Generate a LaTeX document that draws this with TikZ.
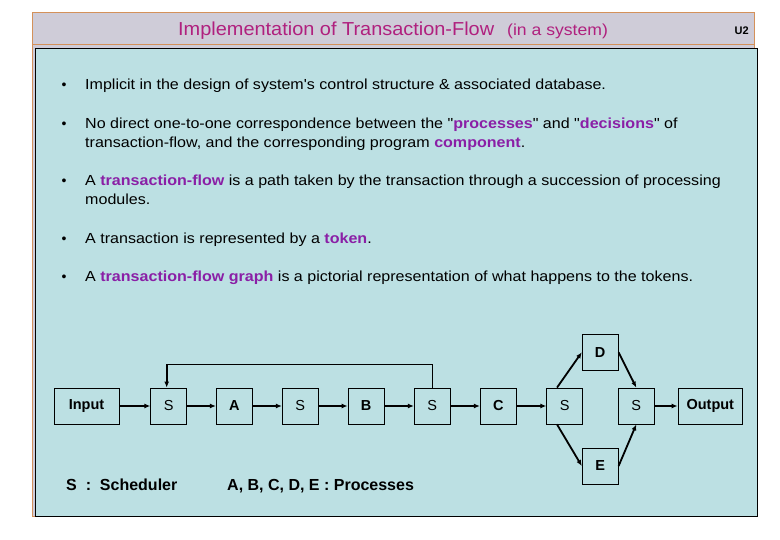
\documentclass[tikz,border=0pt]{standalone}
\usepackage{fontspec}
\setmainfont{Liberation Sans}
\newfontfamily\widesans[FakeStretch=1.1]{Liberation Sans}
\newfontfamily\titlesans[FakeStretch=1.06]{Liberation Sans}
\usetikzlibrary{arrows.meta}
\definecolor{titlebg}{HTML}{CFCCD8}
\definecolor{frameor}{HTML}{D4915A}
\definecolor{bodybg}{HTML}{BCE0E3}
\definecolor{titlecol}{HTML}{B0207E}
\definecolor{hl}{HTML}{8A1FA6}
\newcommand{\hw}[1]{\textbf{\color{hl}#1}}
\newcommand{\dq}{\char"0022\relax}
\tikzset{
  bul/.style={anchor=base west, inner sep=0pt, font=\widesans\fontsize{14.6}{17}\selectfont},
  blt/.style={anchor=base, inner sep=0pt, font=\fontsize{14}{17}\selectfont},
  pbox/.style={draw=black, line width=0.8pt, minimum width=36pt, minimum height=36pt, inner sep=0pt, font=\fontsize{14.5}{16}\selectfont\bfseries},
  sbox/.style={pbox, font=\fontsize{14.5}{16}\selectfont},
  flow/.style={line width=1.8pt, -{Latex[length=6pt,width=5pt]}},
  legend/.style={anchor=base west, inner sep=0pt, font=\fontsize{16}{18}\selectfont\bfseries}
}
\begin{document}
\begin{tikzpicture}[x=1pt,y=-1pt]
\useasboundingbox (0,0) rectangle (780,540);
% frame
\fill[white] (0,0) rectangle (780,540);
\draw[frameor, fill=titlebg, line width=0.8pt] (32,12) rectangle (754,516);
\draw[frameor, line width=0.8pt] (32,44) -- (754,44);
\draw[black, fill=bodybg, line width=0.9pt] (35,48) rectangle (757,516);
% title
\node[inner sep=0pt, anchor=base west, text=titlecol, font=\titlesans\fontsize{18.8}{20}\selectfont] (title) at (178,35.5) {Implementation of Transaction-Flow};
\node[inner sep=0pt, anchor=base west, text=titlecol, font=\widesans\fontsize{16}{18}\selectfont] (subt) at (507,35.5) {(in a system)};
\node[inner sep=0pt, anchor=base east, font=\fontsize{11}{13}\selectfont\bfseries] (u2) at (749,35) {U2};
% bullets
\node[blt] (b1) at (64,90) {•};
\node[bul] (t1) at (85,90) {Implicit in the design of system's control structure \& associated database.};
\node[blt] (b2) at (64,129) {•};
\node[bul] (t2a) at (85,129) {No direct one-to-one correspondence between the \dq\hw{processes}\dq\ and \dq\hw{decisions}\dq\ of};
\node[bul] (t2b) at (85,148) {transaction-flow, and the corresponding program \hw{component}.};
\node[blt] (b3) at (64,186) {•};
\node[bul] (t3a) at (85,186) {A \hw{transaction-flow} is a path taken by the transaction through a succession of processing};
\node[bul] (t3b) at (85,205) {modules.};
\node[blt] (b4) at (64,244) {•};
\node[bul] (t4) at (85,244) {A transaction is represented by a \hw{token}.};
\node[blt] (b5) at (64,282) {•};
\node[bul] (t5) at (85,282) {A \hw{transaction-flow graph} is a pictorial representation of what happens to the tokens.};
% diagram
\node[pbox, minimum width=65pt] (in) at (86.5,406) {Input};
\node[sbox] (s1) at (168.7,406) {S};
\node[pbox] (a) at (234.3,406) {A};
\node[sbox] (s2) at (300.3,406) {S};
\node[pbox] (b) at (366,406) {B};
\node[sbox] (s3) at (432.3,406) {S};
\node[pbox] (c) at (498.3,406) {C};
\node[sbox] (s4) at (564.7,406) {S};
\node[pbox] (d) at (600.2,352.3) {D};
\node[pbox] (e) at (600.2,466) {E};
\node[sbox] (s5) at (636.3,406) {S};
\node[pbox, minimum width=64.7pt] (out) at (710.3,406) {Output};
\draw[flow] (in) -- (s1);
\draw[flow] (s1) -- (a);
\draw[flow] (a) -- (s2);
\draw[flow] (s2) -- (b);
\draw[flow] (b) -- (s3);
\draw[flow] (s3) -- (c);
\draw[flow] (c) -- (s4);
\draw[flow] (s5) -- (out);
\draw[flow] ([xshift=-7.7pt]s4.north) -- (d.west);
\draw[flow] ([xshift=-7.7pt]s4.south) -- (e.west);
\draw[flow] (d.east) -- (s5.north);
\draw[flow] (e.east) -- (s5.south);
\draw[line width=0.8pt] (s3.north) |- (166.7,364.3) coordinate (fb);
\draw[flow] (fb) -- ([xshift=-2pt]s1.north);
% legend
\node[legend] (l1) at (66,490.5) {S \;:\; Scheduler};
\node[legend] (l2) at (227,490.5) {A, B, C, D, E : Processes};
\end{tikzpicture}
\end{document}
